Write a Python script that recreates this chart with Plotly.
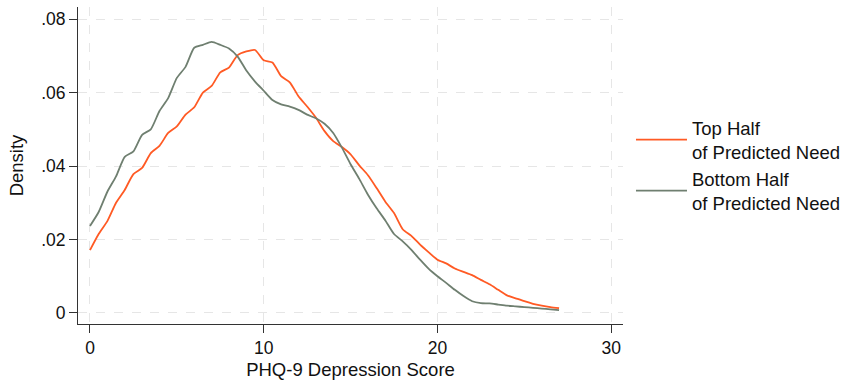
import plotly.graph_objects as go

score = [i * 0.5 for i in range(55)]

top_half = [0.0171, 0.0215, 0.0250, 0.0300, 0.0335, 0.0378, 0.0395, 0.0435, 0.0455, 0.0490,
            0.0508, 0.0540, 0.0560, 0.0600, 0.0618, 0.0655, 0.0668, 0.0702, 0.0712, 0.0716,
            0.0688, 0.0682, 0.0645, 0.0628, 0.0590, 0.0562, 0.0532, 0.0495, 0.0468, 0.0452,
            0.0432, 0.0402, 0.0375, 0.0340, 0.0303, 0.0272, 0.0228, 0.0210, 0.0186, 0.0165,
            0.0145, 0.0135, 0.0121, 0.0112, 0.0103, 0.0090, 0.0078, 0.0063, 0.0048, 0.0040,
            0.0032, 0.0025, 0.0020, 0.0016, 0.0013]

bottom_half = [0.0237, 0.0275, 0.0330, 0.0372, 0.0425, 0.0440, 0.0485, 0.0500, 0.0550, 0.0585,
               0.0640, 0.0670, 0.0722, 0.0730, 0.0738, 0.0730, 0.0720, 0.0698, 0.0660, 0.0630,
               0.0605, 0.0580, 0.0568, 0.0562, 0.0553, 0.0540, 0.0530, 0.0515, 0.0490, 0.0450,
               0.0405, 0.0365, 0.0322, 0.0285, 0.0252, 0.0215, 0.0195, 0.0172, 0.0145, 0.0120,
               0.0100, 0.0082, 0.0063, 0.0046, 0.0032, 0.0027, 0.0026, 0.0023, 0.0020, 0.0018,
               0.0016, 0.0014, 0.0012, 0.0010, 0.0008]

x_ticks = [0, 10, 20, 30]
y_ticks = [0, 0.02, 0.04, 0.06, 0.08]
y_tick_labels = ["0", ".02", ".04", ".06", ".08"]

FONT = "Liberation Sans, Arial, Helvetica, sans-serif"
TXT = "#111111"

fig = go.Figure()
fig.add_trace(go.Scatter(x=score, y=top_half, mode="lines",
                         name="Top Half<br>of Predicted Need",
                         line=dict(color="#FF5A24", width=1.8, shape="spline", smoothing=0.6)))
fig.add_trace(go.Scatter(x=score, y=bottom_half, mode="lines",
                         name="Bottom Half<br>of Predicted Need",
                         line=dict(color="#6F7F70", width=1.8, shape="spline", smoothing=0.6)))

axis_common = dict(showline=True, linecolor="#333333", linewidth=1,
                   ticks="outside", ticklen=8, tickcolor="#333333",
                   showgrid=True, gridcolor="#E6E6E6", griddash="dash", gridwidth=1,
                   zeroline=False, tickfont=dict(size=17.5, color=TXT, family=FONT),
                   mirror=False, automargin=False)

fig.update_xaxes(range=[-0.69, 30.68], tickvals=x_ticks,
                 title=dict(text="PHQ-9 Depression Score", font=dict(size=18.5, color=TXT, family=FONT),
                            standoff=8),
                 **axis_common)
fig.update_yaxes(range=[-0.003, 0.0833], tickvals=y_ticks, ticktext=y_tick_labels,
                 title=dict(text="Density", font=dict(size=18.5, color=TXT, family=FONT),
                            standoff=12),
                 **axis_common)

fig.update_layout(
    width=843, height=380,
    margin=dict(l=78, r=220, t=7, b=56),
    paper_bgcolor="white", plot_bgcolor="white",
    font=dict(family=FONT, color=TXT),
    legend=dict(xref="container", x=0.7485, y=0.5, xanchor="left", yanchor="middle",
                font=dict(size=18.5, color=TXT, family=FONT),
                itemwidth=51, tracegroupgap=0, bgcolor="rgba(0,0,0,0)"),
)

fig.write_html("out.html")
